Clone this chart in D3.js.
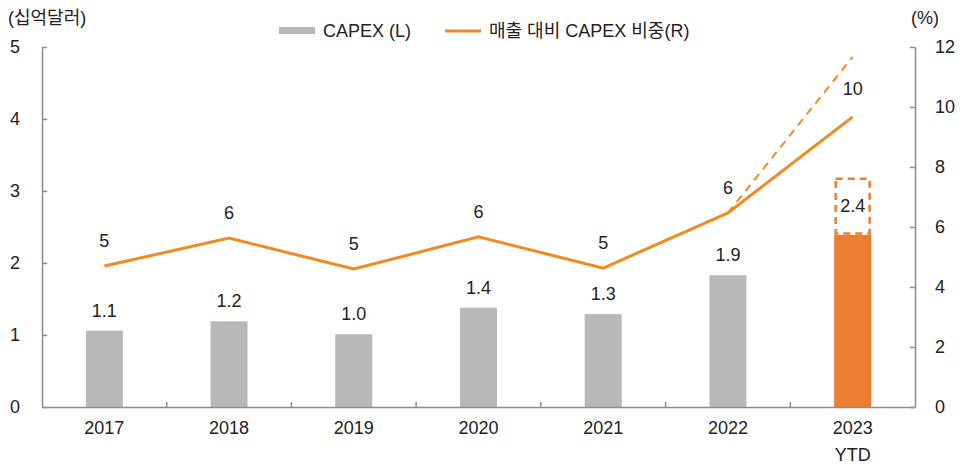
<!DOCTYPE html>
<meta charset="utf-8">
<style>
    body { margin: 0; background: #fff; }
    text { font-family: "Liberation Sans", "Noto Sans CJK KR", sans-serif; fill: #222; }
    .axis path, .axis line { stroke: #8c8c8c; stroke-width: 1.5px; }
    .axis text { font-size: 18px; fill: #222; font-family: "Liberation Sans", sans-serif; }
</style>
<body>
<svg width="962" height="464"></svg>
<script src="https://d3js.org/d3.v7.min.js"></script>
<script>
    var years = ["2017", "2018", "2019", "2020", "2021", "2022", "2023"];
    var capex = [1.06, 1.19, 1.01, 1.38, 1.29, 1.83, 2.39];
    var capexLabels = ["1.1", "1.2", "1.0", "1.4", "1.3", "1.9", "2.4"];
    var capexProjected = 3.17;        // dashed box top for 2023
    var ratio = [4.7, 5.63, 4.6, 5.67, 4.63, 6.47, 9.67];
    var ratioLabels = ["5", "6", "5", "6", "5", "6", "10"];
    var ratioProjected = 11.67;       // dashed line end for 2023
    var leftTicks = [0, 1, 2, 3, 4, 5];
    var rightTicks = [0, 2, 4, 6, 8, 10, 12];

    var svg = d3.select("svg"),
        margin = {top: 47, right: 47, bottom: 57, left: 42},
        width = +svg.attr("width") - margin.left - margin.right,
        height = +svg.attr("height") - margin.top - margin.bottom;

    var orange = "#f28a22", barOrange = "#ed7d31", gray = "#b7b8b9";

    var xc = d3.scaleBand().domain(years).range([0, width]),
        yL = d3.scaleLinear().domain([0, 5]).range([height, 0]),
        yR = d3.scaleLinear().domain([0, 12]).range([height, 0]);

    function cx(i) { return xc(years[i]) + xc.bandwidth() / 2; }

    var g = svg.append("g").attr("transform", "translate(" + margin.left + "," + margin.top + ")");

    // bars
    g.selectAll(".bar")
        .data(capex)
        .enter().append("rect")
        .attr("x", function(d, i) { return cx(i) - 18.5; })
        .attr("width", 37)
        .attr("y", function(d) { return yL(d); })
        .attr("height", function(d) { return height - yL(d); })
        .attr("fill", function(d, i) { return i === 6 ? barOrange : gray; });

    // dashed projection box for 2023
    g.append("rect")
        .attr("x", cx(6) - 17)
        .attr("width", 34)
        .attr("y", yL(capexProjected))
        .attr("height", yL(capex[6]) - yL(capexProjected) - 1.5)
        .attr("fill", "none")
        .attr("stroke", barOrange)
        .attr("stroke-width", 2.5)
        .attr("stroke-dasharray", "7,5");

    // bar labels
    g.selectAll(".barlab")
        .data(capex)
        .enter().append("text")
        .attr("x", function(d, i) { return cx(i); })
        .attr("y", function(d, i) { return i === 6 ? yL(2.8) + 7 : yL(d) - 14; })
        .attr("text-anchor", "middle")
        .style("font-size", "18px")
        .text(function(d, i) { return capexLabels[i]; });

    // line
    g.append("path")
        .datum([ratio[5], ratioProjected])
        .attr("fill", "none")
        .attr("stroke", orange)
        .attr("stroke-width", 2)
        .attr("stroke-dasharray", "8,6")
        .attr("d", d3.line()
            .x(function(d, i) { return cx(5 + i); })
            .y(function(d) { return yR(d); }));

    g.append("path")
        .datum(ratio)
        .attr("fill", "none")
        .attr("stroke", orange)
        .attr("stroke-width", 3)
        .attr("d", d3.line()
            .x(function(d, i) { return cx(i); })
            .y(function(d) { return yR(d); }));

    g.selectAll(".linelab")
        .data(ratio)
        .enter().append("text")
        .attr("x", function(d, i) { return cx(i); })
        .attr("y", function(d, i) { return i === 6 ? yR(d) - 22 : yR(d) - 19; })
        .attr("text-anchor", "middle")
        .style("font-size", "18px")
        .text(function(d, i) { return ratioLabels[i]; });

    // axes
    var xAxis = g.append("g")
        .attr("class", "axis")
        .attr("transform", "translate(0," + height + ")")
        .call(d3.axisBottom(xc).tickSize(0).tickPadding(14));
    g.append("text")
        .attr("x", cx(6))
        .attr("y", height + 54)
        .attr("text-anchor", "middle")
        .style("font-size", "18px")
        .text("YTD");
    // category separators
    xAxis.selectAll(".sep")
        .data(years.slice(1))
        .enter().append("line")
        .attr("x1", function(d) { return xc(d); })
        .attr("x2", function(d) { return xc(d); })
        .attr("y1", 0).attr("y2", -5)
        .attr("stroke", "#8c8c8c").attr("stroke-width", 1.5);

    var yAxisL = g.append("g")
        .attr("class", "axis")
        .call(d3.axisLeft(yL).tickValues(leftTicks).tickFormat(d3.format("d"))
            .tickSize(-5).tickSizeOuter(0).tickPadding(22));
    yAxisL.selectAll(".tick text").attr("text-anchor", "middle").attr("x", -27);

    g.append("g")
        .attr("class", "axis")
        .attr("transform", "translate(" + width + ",0)")
        .call(d3.axisRight(yR).tickValues(rightTicks).tickSize(-5).tickSizeOuter(0).tickPadding(20));

    // unit labels
    svg.append("text").attr("x", 8).attr("y", 24).style("font-size", "18px").text("(십억달러)");
    svg.append("text").attr("x", 911).attr("y", 24).style("font-size", "18px").text("(%)");

    // legend
    var leg = svg.append("g");
    leg.append("rect").attr("x", 279).attr("y", 27).attr("width", 36).attr("height", 7).attr("fill", gray);
    leg.append("text").attr("x", 323).attr("y", 37).style("font-size", "18px").text("CAPEX (L)");
    leg.append("line").attr("x1", 445).attr("x2", 481).attr("y1", 31).attr("y2", 31)
        .attr("stroke", orange).attr("stroke-width", 3);
    leg.append("text").attr("x", 489).attr("y", 37).style("font-size", "18px").text("매출 대비 CAPEX 비중(R)");
</script>
</body>
